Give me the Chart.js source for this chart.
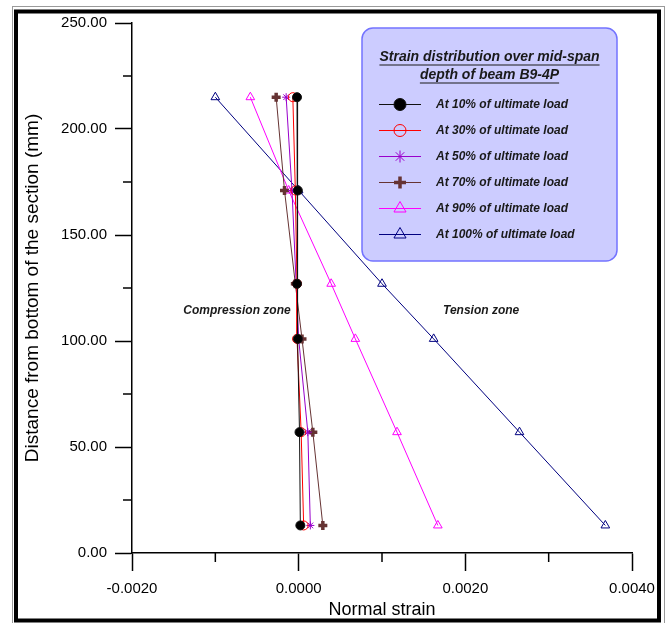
<!DOCTYPE html>
<html>
<head>
<meta charset="utf-8">
<script src="https://cdn.jsdelivr.net/npm/chart.js@4.4.0/dist/chart.umd.min.js"></script>
<style>
  html, body { margin: 0; padding: 0; background: #fff; }
  #wrap { width: 665px; height: 623px; position: relative; }
</style>
</head>
<body>
<div id="wrap"><canvas id="strainChart"></canvas></div>
<script>
// depth of each gauge above the bottom of the section (mm)
const depths = [215, 171, 127, 101, 57, 13];

// measured normal strain at each depth, per load step
const strain10  = [-0.00002, -0.00001, -0.00002, -0.00001, 0.00001, 0.00002];
const strain30  = [-0.00007, -0.00004, -0.00002, -0.00002, 0.00003, 0.00006];
const strain50  = [-0.00015, -0.00008, -0.00003, 0.00000, 0.00011, 0.00014];
const strain70  = [-0.00027, -0.00017, -0.00004, 0.00004, 0.00017, 0.00029];
const strain90  = [-0.00058, -0.00012, 0.00039, 0.00068, 0.00118, 0.00167];
const strain100 = [-0.00100, 0.00000, 0.00100, 0.00162, 0.00265, 0.00368];

const seriesLabels = [
  'At 10% of ultimate load', 'At 30% of ultimate load', 'At 50% of ultimate load',
  'At 70% of ultimate load', 'At 90% of ultimate load', 'At 100% of ultimate load'
];
const legendTitle = ['Strain distribution over mid-span', 'depth of beam B9-4P'];

// axis ranges
const xMin = -0.002, xMax = 0.004, xStep = 0.002;
const yMin = 0, yMax = 250, yStep = 50;

// zone captions, placed in data units
const zoneLabels = [
  { text: 'Compression zone', x: -0.00074, y: 114.5 },
  { text: 'Tension zone', x: 0.00219, y: 114.5 }
];

const FONT = 'Arial, "Liberation Sans", sans-serif';

function pts(values) {
  return values.map((v, i) => ({ x: v, y: depths[i] }));
}

function series(label, values, color, style, opts) {
  return Object.assign({
    label: label,
    data: pts(values),
    showLine: true,
    borderColor: color,
    borderWidth: 1,
    pointStyle: style,
    pointBorderColor: color,
    pointBackgroundColor: 'transparent',
    pointBorderWidth: 1,
    pointRadius: 4.5,
    pointHoverRadius: 4.5,
    legendRadius: 6,
    tension: 0,
    fill: false
  }, opts || {});
}

const datasets = [
  series(seriesLabels[0], strain10, '#111111', 'circle', { pointBackgroundColor: '#000000', pointRadius: 4.5, legendRadius: 6 }),
  series(seriesLabels[1], strain30, '#ff0000', 'circle', { pointRadius: 4.5, legendRadius: 6 }),
  series(seriesLabels[2], strain50, '#9900cc', 'star', { pointRadius: 4, legendRadius: 6 }),
  series(seriesLabels[3], strain70, '#663333', 'cross', { pointBorderWidth: 3.5, pointRadius: 4.5, legendRadius: 6 }),
  series(seriesLabels[4], strain90, '#ff00ff', 'triangle', { pointRadius: 5, legendRadius: 7 }),
  series(seriesLabels[5], strain100, '#000080', 'triangle', { pointRadius: 5, legendRadius: 7 })
];

// white page with the double frame round it
const framePlugin = {
  id: 'frame',
  beforeDraw(chart) {
    const ctx = chart.ctx;
    ctx.save();
    ctx.fillStyle = '#ffffff';
    ctx.fillRect(0, 0, chart.width, chart.height);
    ctx.restore();
  },
  afterDraw(chart) {
    const ctx = chart.ctx;
    ctx.save();
    ctx.strokeStyle = '#9a9a9a';
    ctx.lineWidth = 1;
    ctx.strokeRect(12.5, 6.5, 652, 620);
    ctx.strokeStyle = '#000000';
    ctx.lineWidth = 4;
    ctx.strokeRect(16, 11.5, 643, 609);
    ctx.restore();
  }
};

// short ticks halfway between the labelled ones
const minorTicks = {
  id: 'minorTicks',
  afterDraw(chart) {
    const ctx = chart.ctx;
    const xs = chart.scales.x, ys = chart.scales.y;
    ctx.save();
    ctx.strokeStyle = '#000';
    ctx.lineWidth = 1.5;
    for (let i = 0; i < xs.ticks.length - 1; i++) {
      const px = xs.getPixelForValue((xs.ticks[i].value + xs.ticks[i + 1].value) / 2);
      ctx.beginPath();
      ctx.moveTo(px, chart.chartArea.bottom);
      ctx.lineTo(px, chart.chartArea.bottom + 9);
      ctx.stroke();
    }
    for (let i = 0; i < ys.ticks.length - 1; i++) {
      const py = ys.getPixelForValue((ys.ticks[i].value + ys.ticks[i + 1].value) / 2);
      ctx.beginPath();
      ctx.moveTo(chart.chartArea.left, py);
      ctx.lineTo(chart.chartArea.left - 9, py);
      ctx.stroke();
    }
    ctx.restore();
  }
};

const zoneText = {
  id: 'zoneText',
  afterDatasetsDraw(chart) {
    const ctx = chart.ctx;
    ctx.save();
    ctx.font = 'italic bold 12px ' + FONT;
    ctx.fillStyle = '#1a1a1a';
    ctx.textAlign = 'center';
    ctx.textBaseline = 'middle';
    zoneLabels.forEach(z => {
      ctx.fillText(z.text, chart.scales.x.getPixelForValue(z.x), chart.scales.y.getPixelForValue(z.y));
    });
    ctx.restore();
  }
};

// rounded lavender legend box with underlined title
const legendBox = {
  id: 'legendBox',
  afterDraw(chart) {
    const ctx = chart.ctx;
    const bx = 362, by = 28, bw = 255, bh = 233;
    ctx.save();
    ctx.beginPath();
    ctx.roundRect(bx, by, bw, bh, 11);
    ctx.fillStyle = '#ccccff';
    ctx.fill();
    ctx.lineWidth = 1.5;
    ctx.strokeStyle = '#7373ff';
    ctx.stroke();

    const cx = bx + bw / 2;
    ctx.fillStyle = '#1a1a1a';
    ctx.font = 'italic bold 14px ' + FONT;
    ctx.textAlign = 'center';
    ctx.textBaseline = 'middle';
    legendTitle.forEach((line, i) => {
      const y = 57.5 + i * 18;
      ctx.fillText(line, cx, y);
      const w = ctx.measureText(line).width;
      ctx.fillRect(cx - w / 2, y + 7, w, 1);
    });

    ctx.font = 'italic bold 12px ' + FONT;
    ctx.textAlign = 'left';
    chart.data.datasets.forEach((ds, i) => {
      const y = 104.5 + i * 26;
      ctx.strokeStyle = ds.borderColor;
      ctx.lineWidth = 1;
      ctx.beginPath();
      ctx.moveTo(379, y);
      ctx.lineTo(421, y);
      ctx.stroke();
      ctx.fillStyle = ds.pointBackgroundColor;
      ctx.strokeStyle = ds.pointBorderColor;
      ctx.lineWidth = ds.pointBorderWidth;
      Chart.helpers.drawPoint(ctx, {
        pointStyle: ds.pointStyle, radius: ds.legendRadius,
        borderWidth: ds.pointBorderWidth, rotation: 0
      }, 400, y);
      ctx.fillStyle = '#1a1a1a';
      ctx.fillText(ds.label, 436, y + 0.5);
    });
    ctx.restore();
  }
};

new Chart(document.getElementById('strainChart'), {
  type: 'scatter',
  data: { datasets: datasets },
  options: {
    responsive: true,
    maintainAspectRatio: false,
    devicePixelRatio: 1,
    animation: false,
    layout: { padding: { top: 23, right: 33, left: 0, bottom: 0 } },
    plugins: {
      legend: { display: false },
      tooltip: { enabled: false }
    },
    scales: {
      x: {
        type: 'linear',
        position: 'bottom',
        min: xMin, max: xMax,
        ticks: {
          stepSize: xStep,
          color: '#000',
          padding: 9,
          font: { family: FONT, size: 15 },
          callback: v => (Math.abs(v) < 1e-12 ? 0 : v).toFixed(4)
        },
        grid: {
          display: true, drawOnChartArea: false, drawTicks: true,
          tickLength: 18, tickWidth: 1.5, tickColor: '#000'
        },
        border: { display: true, color: '#000', width: 1.5 },
        title: {
          display: true, text: 'Normal strain', color: '#000',
          font: { family: FONT, size: 18 }, padding: { top: 0, bottom: 2 }
        },
        afterFit: s => { s.height = 70; }
      },
      y: {
        type: 'linear',
        position: 'left',
        min: yMin, max: yMax,
        ticks: {
          stepSize: yStep,
          color: '#000',
          padding: 8,
          font: { family: FONT, size: 15 },
          callback: v => v.toFixed(2)
        },
        grid: {
          display: true, drawOnChartArea: false, drawTicks: true,
          tickLength: 17, tickWidth: 1.5, tickColor: '#000'
        },
        border: { display: true, color: '#000', width: 1.5 },
        title: {
          display: true, text: 'Distance from bottom of the section (mm)', color: '#000',
          font: { family: FONT, size: 19 }, padding: { top: 21, bottom: 0 }
        },
        afterFit: s => { s.width = 132; }
      }
    }
  },
  plugins: [framePlugin, minorTicks, zoneText, legendBox]
});
</script>
</body>
</html>
